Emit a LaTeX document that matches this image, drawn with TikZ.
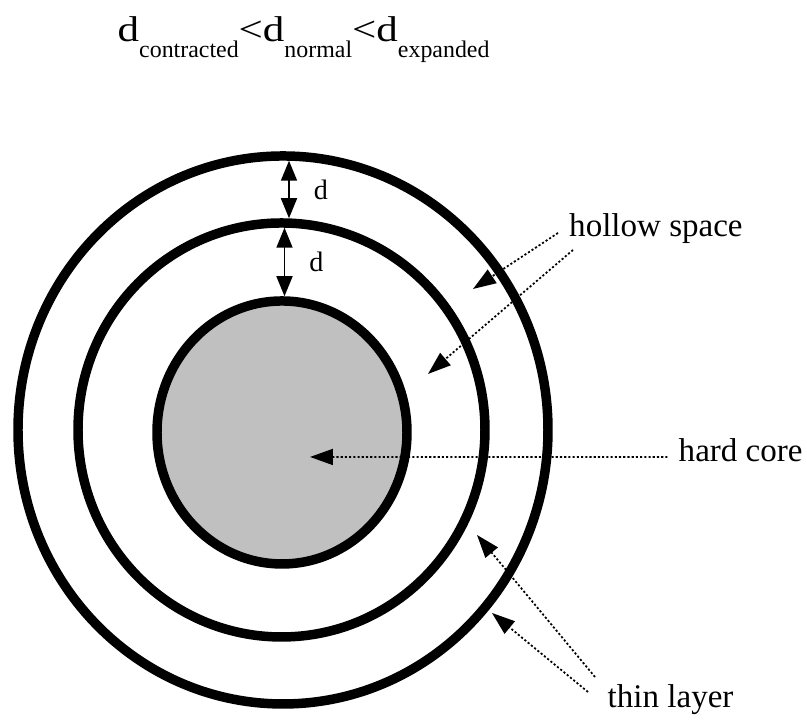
\documentclass[tikz,border=0pt]{standalone}
\usepackage{fontspec}
\setmainfont{Liberation Serif}
\usepackage{graphicx}
\usetikzlibrary{shapes.geometric, arrows.meta, positioning}
\definecolor{coregray}{HTML}{C0C0C0}

\newcommand{\bigsym}[1]{\scalebox{1.2}[1]{\fontsize{10.2pt}{12pt}\selectfont #1}}
\newcommand{\subtext}[1]{\raisebox{-4.5pt}{\fontsize{6.8pt}{8pt}\selectfont #1}}

\tikzset{
  ring/.style={ellipse, draw, line width=2.7pt, inner sep=0pt, outer sep=0pt},
  darrow/.style={{Triangle[length=2mm,width=1.6mm]}-{Triangle[length=2mm,width=1.6mm]},
    line width=0.5pt, shorten <=1.35pt, shorten >=1.35pt},
  lead/.style={-{Triangle[length=2.3mm,width=1.6mm]}, line width=0.5pt,
    dash pattern=on 0.6pt off 0.6pt},
  textlbl/.style={font=\fontsize{9.4pt}{11pt}\selectfont, anchor=base west, inner sep=3pt},
  dlbl/.style={font=\fontsize{8pt}{9pt}\selectfont, inner sep=0pt}
}

\begin{document}
\begin{tikzpicture}
  \useasboundingbox (0,0) rectangle (8.07,7.20);

  % title
  \node[anchor=base west, inner sep=0pt] (title) at (1.17,6.78)
    {\bigsym{d}\subtext{contracted}\bigsym{<}\bigsym{d}\subtext{normal}\bigsym{<}\bigsym{d}\subtext{expanded}};

  % rings and core
  \node[ring, minimum width=5.30cm, minimum height=5.48cm] (outer) at (2.83,2.90) {};
  \node[ring, minimum width=4.07cm, minimum height=4.14cm] (middle) at (2.815,2.90) {};
  \node[ring, fill=coregray, minimum width=2.50cm, minimum height=2.63cm] (core) at (2.82,2.875) {};

  % gap width
  \draw[darrow] ([xshift=0.6mm]outer.north) -- node[right=0.24cm, dlbl] {d}
    ([xshift=0.6mm]outer.north |- middle.north);
  \draw[darrow] ([xshift=0.3mm]middle.north) -- node[right=0.24cm, dlbl] {d}
    ([xshift=0.3mm]middle.north |- core.north);

  % labels
  \node[textlbl] (hollow) at (5.58,4.83) {hollow space};
  \node[textlbl] (hard) at (6.675,2.58) {hard core};
  \node[textlbl] (thin) at (5.965,0.12) {thin layer};

  \coordinate (gapA) at (4.73,4.31);
  \coordinate (gapB) at (4.28,3.46);
  \coordinate (coretip) at (3.10,2.63);
  \coordinate (ringA) at (4.77,1.85);
  \coordinate (ringB) at (4.92,1.07);

  % leaders
  \draw[lead] ([yshift=0.4mm]hollow.base west) -- (gapA);
  \draw[lead] ([xshift=1.5mm, yshift=-1.3mm]hollow.base west) -- (gapB);
  \draw[lead] ([yshift=0.5mm]hard.base west) -- (coretip);
  \draw[lead] ([xshift=-0.15mm, yshift=3.1mm]thin.base west) -- (ringA);
  \draw[lead] ([xshift=-0.85mm, yshift=1.6mm]thin.base west) -- (ringB);
\end{tikzpicture}
\end{document}
